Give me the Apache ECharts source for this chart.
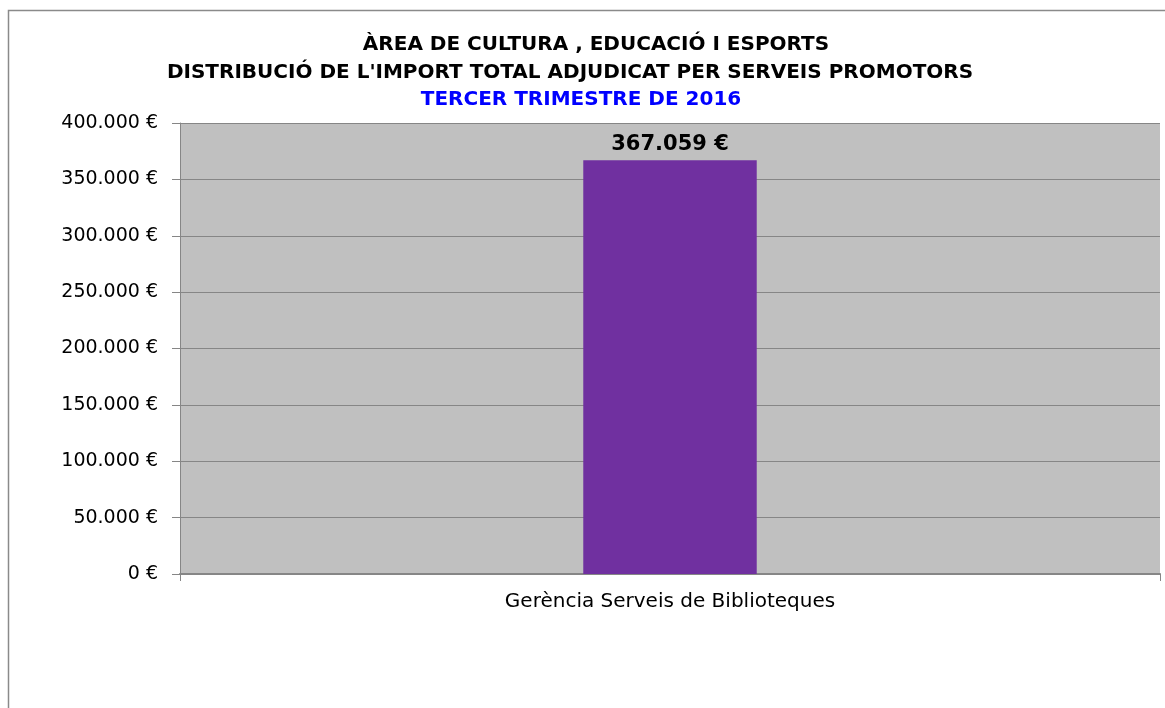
<!DOCTYPE html>
<html>
<head>
<meta charset="utf-8">
<script src="https://cdn.jsdelivr.net/npm/echarts@6/dist/echarts.min.js"></script>
<style>
  html, body { margin: 0; padding: 0; background: #fff; }
  #main { width: 1165px; height: 708px; }
</style>
</head>
<body>
<div id="main"></div>
<script>
const categories = ['Gerència Serveis de Biblioteques']
const amounts = [367059]
const yTicks = [0, 50000, 100000, 150000, 200000, 250000, 300000, 350000, 400000]

const titleLines = [
  'ÀREA DE CULTURA , EDUCACIÓ I ESPORTS',
  "DISTRIBUCIÓ DE L'IMPORT TOTAL ADJUDICAT PER SERVEIS PROMOTORS",
  'TERCER TRIMESTRE DE 2016'
]

// 367059 -> "367.059 €"
const euro = v => String(v).replace(/\B(?=(\d{3})+(?!\d))/g, '.') + ' €'

const chart = echarts.init(document.getElementById('main'), null, { renderer: 'canvas' })

const titleFont = { fontFamily: 'DejaVu Sans', fontWeight: 'bold', fontSize: 20, color: '#000' }

chart.setOption({
  backgroundColor: '#fff',
  animation: false,
  title: [
    { text: titleLines[0], left: 591, top: 30, textAlign: 'center', textStyle: titleFont },
    { text: titleLines[1], left: 565, top: 58, textAlign: 'center', textStyle: titleFont },
    { text: titleLines[2], left: 576, top: 85, textAlign: 'center', textStyle: Object.assign({}, titleFont, { color: '#0000ff' }) }
  ],
  graphic: [{
    type: 'rect', silent: true,
    shape: { x: 8.5, y: 10.5, width: 1170, height: 720 },
    style: { fill: 'none', stroke: '#8a8a8a', lineWidth: 1.5 }
  }],
  grid: { left: 180, right: 5, top: 123, bottom: 134, show: true, backgroundColor: '#c0c0c0', borderWidth: 0 },
  xAxis: {
    type: 'category',
    data: categories,
    axisLine: { show: true, lineStyle: { color: '#868686', width: 2 } },
    axisTick: { show: true, length: 7, lineStyle: { color: '#868686' } },
    axisLabel: { margin: 18, fontFamily: 'DejaVu Sans', fontSize: 20, color: '#000' },
    splitLine: { show: false }
  },
  yAxis: {
    type: 'value',
    min: yTicks[0],
    max: yTicks[yTicks.length - 1],
    interval: yTicks[1] - yTicks[0],
    axisLine: { show: true, lineStyle: { color: '#868686' } },
    axisTick: { show: true, length: 8, lineStyle: { color: '#868686' } },
    axisLabel: { margin: 22, fontFamily: 'DejaVu Sans', fontSize: 19, color: '#000', formatter: euro },
    splitLine: { show: true, lineStyle: { color: '#868686', width: 1 } }
  },
  series: [{
    type: 'bar',
    data: amounts,
    barWidth: '17.7%',
    itemStyle: { color: '#7030a0' },
    label: {
      show: true,
      position: 'top',
      distance: 5,
      formatter: p => euro(p.value),
      fontFamily: 'DejaVu Sans',
      fontWeight: 'bold',
      fontSize: 21,
      color: '#000'
    }
  }]
})
</script>
</body>
</html>
